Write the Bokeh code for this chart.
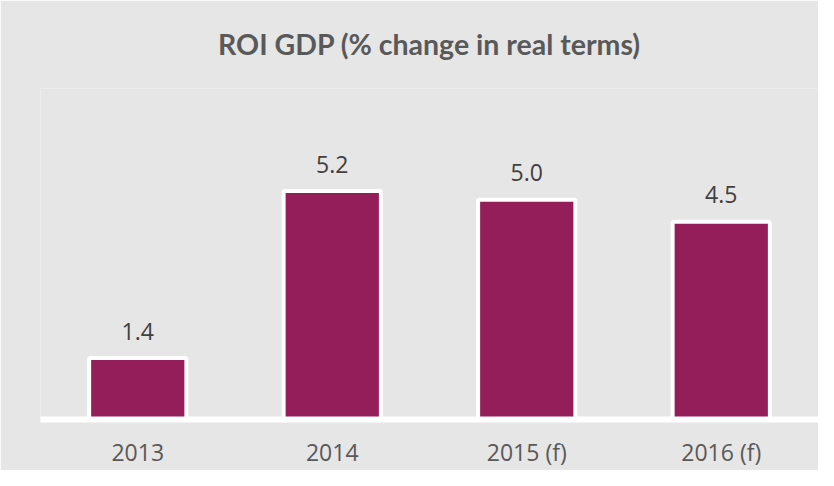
from bokeh.plotting import figure
from bokeh.models import Range1d, FactorRange, ColumnDataSource
from bokeh.core.properties import value
from bokeh.embed import file_html
from bokeh.resources import INLINE

categories = ["2013", "2014", "2015 (f)", "2016 (f)"]
gdp_change = [1.4, 5.2, 5.0, 4.5]
value_labels = ["1.4", "5.2", "5.0", "4.5"]
title_text = "ROI GDP (% change in real terms)"

BG = "#e6e6e6"
BAR = "#931e59"

src = ColumnDataSource(dict(cat=categories, val=gdp_change, lab=value_labels))

p = figure(width=818, height=470, output_backend="svg", toolbar_location=None,
           x_range=FactorRange(*categories), y_range=Range1d(0, 7.535),
           min_border_left=40, min_border_right=0, min_border_top=88, min_border_bottom=48,
           title=title_text)
p.background_fill_color = BG
p.border_fill_color = BG
p.outline_line_color = None
p.xgrid.visible = False
p.ygrid.visible = False
p.yaxis.visible = False
p.x_range.range_padding = 0

p.title.align = "center"
p.title.vertical_align = "top"
p.title.text_font = "Lato"
p.title.text_font_style = "bold"
p.title.text_font_size = "28.5px"
p.title.text_color = "#595959"
p.title.standoff = 52

p.vbar(x="cat", top="val", width=0.5, bottom=0, source=src,
       fill_color=BAR, line_color="white", line_width=4)

p.text(x="cat", y="val", text="lab", source=src, y_offset=-27,
       text_align="center", text_baseline="middle",
       text_font=value("Open Sans"), text_font_size="23px", text_color="#404040")

ax = p.xaxis[0]
ax.axis_line_color = "white"
ax.axis_line_width = 6
ax.major_tick_line_color = None
ax.minor_tick_line_color = None
ax.major_label_text_font = "Open Sans"
ax.major_label_text_font_size = "23px"
ax.major_label_text_color = "#595959"
ax.major_label_standoff = 10

open("out.html", "w").write(file_html(p, INLINE))
